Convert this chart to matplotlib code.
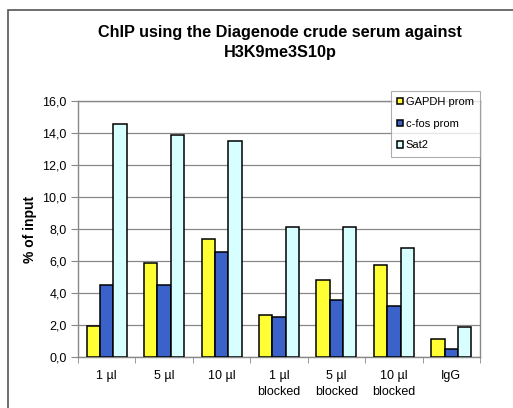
import numpy as np
import matplotlib.pyplot as plt
from matplotlib.patches import Rectangle

plt.rcParams['font.family'] = ['Liberation Sans', 'DejaVu Sans']

# Data
categories = ['1 µl', '5 µl', '10 µl', '1 µl\nblocked', '5 µl\nblocked', '10 µl\nblocked', 'IgG']
gapdh = [1.95, 5.85, 7.35, 2.65, 4.8, 5.75, 1.15]
cfos = [4.5, 4.5, 6.55, 2.5, 3.55, 3.2, 0.5]
sat2 = [14.55, 13.9, 13.5, 8.15, 8.1, 6.8, 1.9]
series_names = ['GAPDH prom', 'c-fos prom', 'Sat2']
colors = ['#FFFF33', '#3A62C8', '#D8FFFF']

fig = plt.figure(figsize=(5.13, 4.08), dpi=100)
ax = fig.add_axes([78 / 513, 51 / 408, 402 / 513, 256 / 408])

# Outer chart border (cut off on right and bottom)
fig.patches.append(Rectangle((8 / 513, -0.1), 1.2, (408 - 10) / 408 + 0.1,
                             transform=fig.transFigure, fill=False,
                             edgecolor='#555555', linewidth=1.2))

x = np.arange(len(categories))
w = 0.232
for i, (vals, name, c) in enumerate(zip([gapdh, cfos, sat2], series_names, colors)):
    ax.bar(x + (i - 1) * w, vals, width=w, color=c, edgecolor='black',
           linewidth=1.1, label=name, zorder=3)

ax.set_xlim(-0.5, len(categories) - 0.5)
ax.set_ylim(0, 16)
ax.set_yticks(np.arange(0, 17, 2))
ax.set_yticklabels([f'{v:.1f}'.replace('.', ',') for v in np.arange(0, 17, 2)], fontsize=9)
ax.set_xticks(x)
ax.set_xticklabels(categories, fontsize=9, linespacing=1.5)
ax.set_xticks(np.arange(-0.5, len(categories)), minor=True)
ax.tick_params(axis='x', which='major', length=0, pad=9)
ax.tick_params(axis='x', which='minor', length=4, color='#888888')
ax.tick_params(axis='y', length=5, color='#888888', pad=3)
ax.yaxis.grid(True, color='#888888', linewidth=0.9, zorder=0)
ax.set_axisbelow(True)
for s in ax.spines.values():
    s.set_color('#888888')
    s.set_linewidth(1.0)

ax.set_ylabel('% of input', fontsize=10, fontweight='bold', labelpad=4)

fig.text(280 / 513, (408 - 32) / 408, 'ChIP using the Diagenode crude serum against',
         ha='center', va='center', fontsize=11.7, fontweight='bold')
fig.text(280 / 513, (408 - 53) / 408, 'H3K9me3S10p',
         ha='center', va='center', fontsize=11.7, fontweight='bold')

leg = ax.legend(loc='upper right', bbox_to_anchor=(480 / 513, (408 - 91) / 408),
                bbox_transform=fig.transFigure, fontsize=8, frameon=True,
                fancybox=False, handlelength=0.5, handleheight=0.5,
                handletextpad=0.3, labelspacing=1.05, borderpad=0.55,
                borderaxespad=0)
leg.get_frame().set_edgecolor('#999999')
leg.get_frame().set_linewidth(0.8)
leg.set_zorder(5)

fig.savefig('out.png', dpi=100)
